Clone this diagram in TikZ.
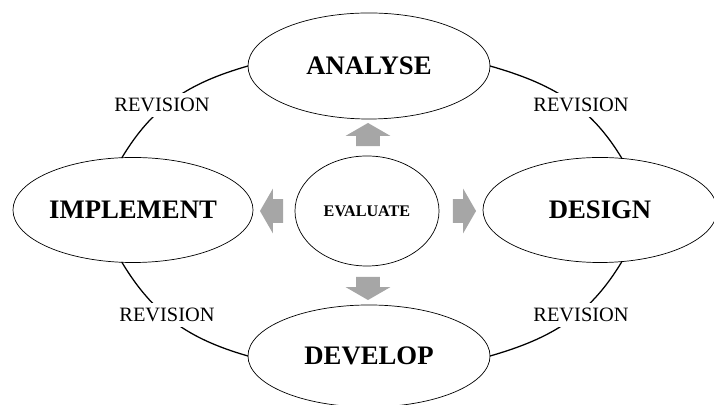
\documentclass[tikz,border=0pt]{standalone}
\usepackage{fontspec}
\setmainfont{Liberation Serif}
\usetikzlibrary{shapes.geometric}
\usetikzlibrary{shapes.arrows}
\definecolor{arrowgray}{RGB}{166,166,166}

\begin{document}
\begin{tikzpicture}[line cap=round,line join=round, x=0.025cm,y=0.025cm,
  phase/.style={ellipse, draw=black, line width=0.5pt, fill=white, inner sep=0pt, outer sep=0pt, font=\fontsize{19}{23}\selectfont\bfseries},
  revision/.style={fill=white, inner sep=3.5pt, font=\fontsize{14.5}{17}\selectfont},
  cycle/.style={line width=0.9pt},
  grayarrow/.style={single arrow, fill=arrowgray, draw=none, inner xsep=0pt, inner ysep=0.29cm, minimum height=0.58cm, single arrow head extend=0.26cm, single arrow tip angle=120}]
\useasboundingbox (0,0) rectangle (714,405);
\clip (0,0) rectangle (714,405);
\node[phase, minimum width=6.05cm, minimum height=2.65cm] (analyse) at (369,339) {ANALYSE};
\node[phase, minimum width=3.6cm, minimum height=2.75cm, font=\fontsize{11.5}{14}\selectfont\bfseries] (evaluate) at (367,194) {EVALUATE};
\node[phase, minimum width=6cm, minimum height=2.625cm] (implement) at (133,195) {IMPLEMENT};
\node[phase, minimum width=5.85cm, minimum height=2.625cm] (design) at (600,195) {DESIGN};
\node[phase, minimum width=6.05cm, minimum height=2.55cm] (develop) at (369,49) {DEVELOP};
\draw[cycle] (analyse.west) to[out=196,in=59] (implement.102);
\draw[cycle] (analyse.east) to[out=344,in=121] (design.67);
\draw[cycle] (implement.258) to[out=301,in=164] (develop.west);
\draw[cycle] (design.293) to[out=239,in=16] (develop.east);
\node[revision] (revtl) at (162,300) {REVISION};
\node[revision] (revtr) at (581,300) {REVISION};
\node[revision] (revbl) at (167,90) {REVISION};
\node[revision] (revbr) at (581,90) {REVISION};
\node[grayarrow, rotate=90] (toanalyse) at (368,267) {};
\node[grayarrow, rotate=-90] (todevelop) at (368,120) {};
\node[grayarrow, rotate=180] (toimplement) at (275,194) {};
\node[grayarrow] (todesign) at (461,194) {};
\end{tikzpicture}
\end{document}
